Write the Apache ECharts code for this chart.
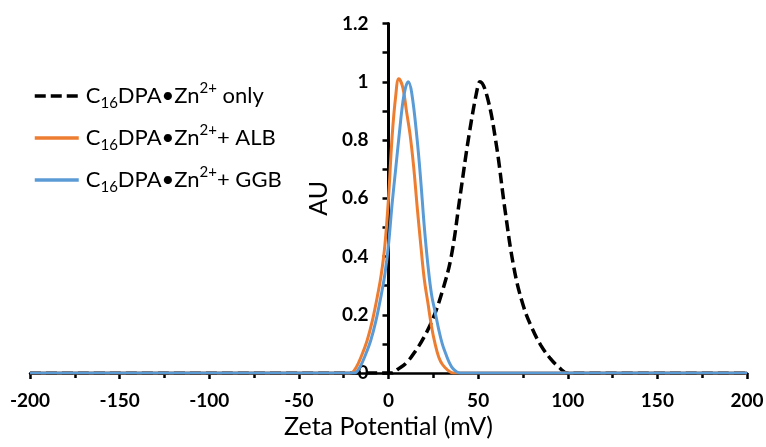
<!DOCTYPE html>
<html>
<head>
<meta charset="utf-8">
<script src="https://cdn.jsdelivr.net/npm/echarts@6/dist/echarts.min.js"></script>
<style>html,body{margin:0;padding:0;background:#fff;}#c{width:766px;height:447px;}</style>
</head>
<body>
<div id="c"></div>
<script>
// ---- data ----
const seriesSuffix = [' only', '+ ALB', '+ GGB'];
const seriesNames = ['C16DPA•Zn2+ only', 'C16DPA•Zn2+ + ALB', 'C16DPA•Zn2+ + GGB'];

const zetaOnly = [-200, 0, 2, 5, 10, 15, 20, 25, 30, 35, 40, 45, 50, 51, 55, 60, 65, 70, 75, 80, 85, 90, 95, 100, 200];
const auOnly   = [0, 0, 0, 0.012, 0.035, 0.075, 0.125, 0.19, 0.28, 0.40, 0.61, 0.82, 0.99, 1.0, 0.95, 0.79, 0.56, 0.36, 0.235, 0.155, 0.095, 0.052, 0.02, 0, 0];

const zetaALB = [-200, -25, -21, -18, -15, -12, -9, -6, -4, -2, 0, 2, 4, 5.75, 8, 10, 12, 14, 16, 18, 20, 22, 24, 26, 28, 30, 33, 36, 200];
const auALB   = [0, 0, 0, 0.02, 0.06, 0.11, 0.18, 0.27, 0.34, 0.44, 0.60, 0.81, 0.95, 1.01, 0.98, 0.90, 0.82, 0.71, 0.57, 0.44, 0.32, 0.24, 0.16, 0.10, 0.055, 0.03, 0.01, 0, 0];

const zetaGGB = [-200, -23, -19, -16, -13, -10, -7, -4, -2, 0, 2, 4, 6, 8, 9.5, 11, 13, 16, 18, 20, 22, 24, 26, 28, 30, 32, 34, 36, 40, 200];
const auGGB   = [0, 0, 0, 0.02, 0.06, 0.11, 0.18, 0.27, 0.34, 0.44, 0.58, 0.70, 0.82, 0.93, 0.98, 1.0, 0.96, 0.80, 0.66, 0.50, 0.37, 0.27, 0.21, 0.15, 0.10, 0.065, 0.035, 0.015, 0, 0];

const xMin = -200, xMax = 200, xStep = 50;
const yMin = 0, yMax = 1.2, yStep = 0.2;

const colors = ['#000000', '#ED7D31', '#5B9BD5'];

function pairs(xs, ys) { return xs.map((x, i) => [x, ys[i]]); }

const W = 766, H = 447;
const G = { left: 30, right: 19, top: 23.5, bottom: 74 };
const gridW = W - G.left - G.right;
// y axis drawn at x = 0 of the x scale
const yAxisOffset = -((0 - xMin) / (xMax - xMin)) * gridW;

const chart = echarts.init(document.getElementById('c'));
const FONT = 'Lato';

chart.setOption({
  backgroundColor: '#ffffff',
  animation: false,
  grid: { left: G.left, right: G.right, top: G.top, bottom: G.bottom, containLabel: false, outerBoundsMode: 'none' },
  legend: {
    orient: 'vertical',
    left: 28,
    top: 76,
    itemWidth: 44,
    itemHeight: 14,
    itemGap: 12,
    data: seriesNames,
    itemStyle: { opacity: 0 },
    lineStyle: { width: 3.5 },
    formatter: function (name) {
      const i = seriesNames.indexOf(name);
      return 'C{sub|16}DPA•Zn{sup|2+}' + seriesSuffix[i];
    },
    textStyle: {
      fontFamily: FONT, fontSize: 22, color: '#000', lineHeight: 30,
      padding: [0, 0, 0, 2],
      rich: {
        sub: { fontFamily: FONT, fontSize: 15, lineHeight: 18, verticalAlign: 'bottom', color: '#000' },
        sup: { fontFamily: FONT, fontSize: 15, lineHeight: 22, verticalAlign: 'top', color: '#000' }
      }
    }
  },
  xAxis: {
    type: 'value', min: xMin, max: xMax, interval: xStep,
    name: 'Zeta Potential (mV)', nameLocation: 'middle', nameGap: 40,
    nameTextStyle: { fontFamily: FONT, fontSize: 25, color: '#000' },
    axisLine: { show: true, onZero: false, lineStyle: { color: '#000', width: 2.5 } },
    axisTick: { show: true, inside: false, length: 6, lineStyle: { color: '#000', width: 2.5 } },
    minorTick: { show: true, splitNumber: 2, length: 5, lineStyle: { color: '#000', width: 2.5 } },
    splitLine: { show: false },
    axisLabel: { fontFamily: FONT, fontSize: 19, fontWeight: 'bold', color: '#000', margin: 18 }
  },
  yAxis: {
    type: 'value', min: yMin, max: yMax, interval: yStep,
    offset: yAxisOffset,
    name: 'AU', nameLocation: 'middle', nameGap: 53, nameRotate: 90,
    nameTextStyle: { fontFamily: FONT, fontSize: 25, color: '#000' },
    axisLine: { show: true, onZero: false, lineStyle: { color: '#000', width: 3 } },
    axisTick: { show: true, inside: false, length: 6, lineStyle: { color: '#000', width: 2.5 } },
    minorTick: { show: true, splitNumber: 2, length: 6, lineStyle: { color: '#000', width: 2.5 } },
    splitLine: { show: false },
    axisLabel: { fontFamily: FONT, fontSize: 19, fontWeight: 'bold', color: '#000', margin: 20 }
  },
  series: [
    {
      name: seriesNames[0], type: 'line', data: pairs(zetaOnly, auOnly),
      smooth: 0.4, symbol: 'none', color: colors[0],
      lineStyle: { color: colors[0], width: 3.5, type: [11, 5] }, z: 3
    },
    {
      name: seriesNames[1], type: 'line', data: pairs(zetaALB, auALB),
      smooth: 0.4, symbol: 'none', color: colors[1],
      lineStyle: { color: colors[1], width: 3 }, z: 4
    },
    {
      name: seriesNames[2], type: 'line', data: pairs(zetaGGB, auGGB),
      smooth: 0.4, symbol: 'none', color: colors[2],
      lineStyle: { color: colors[2], width: 3 }, z: 5
    }
  ]
});
</script>
</body>
</html>
